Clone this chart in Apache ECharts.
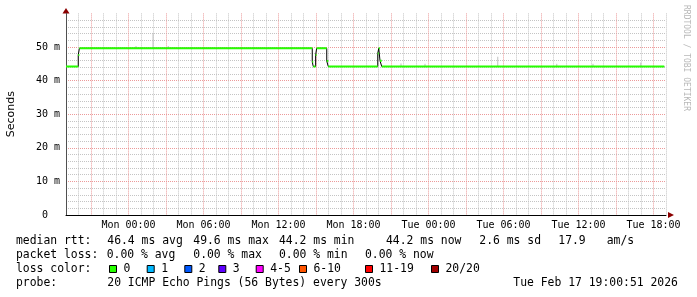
<!DOCTYPE html>
<html><head><meta charset="utf-8">
<script src="https://cdn.jsdelivr.net/npm/echarts@6/dist/echarts.min.js"></script>
<style>html,body{margin:0;padding:0;background:#fff}#c{width:697px;height:297px}</style>
</head><body><div id="c"></div>
<script>
// hours relative to Mon 00:00 (window Sun 19:00 .. Tue 19:00)
const medianHours  = [-5, -4.02, -3.93, 14.70, 14.78, 14.97, 15.05, 15.86, 15.98, 19.94, 20.02, 20.12, 20.26, 42.86];
const medianValues = [44.2, 47.6, 49.6, 45.6, 44.2, 47.6, 49.6, 45.8, 44.2, 48.1, 49.6, 45.9, 44.2, 44.2];
const smokeHours = [0.6, 1.96, 3.18, 21.8, 23.72, 29.54, 34.26, 37.16, 40.98];
const smokeTops  = [50.3, 54.2, 50.3, 45.1, 45.0, 47.1, 45.0, 45.0, 45.4];
const tickHours  = [0, 6, 12, 18, 24, 30, 36, 42];
const tickLabels = ['Mon 00:00','Mon 06:00','Mon 12:00','Mon 18:00','Tue 00:00','Tue 06:00','Tue 12:00','Tue 18:00'];
const rttStats   = [46.4, 49.6, 44.2, 44.2, 2.6];
const rttAmps    = 17.9;
const lossStats  = [0, 0, 0, 0];
const lossLabels = ['0','1','2','3','4-5','6-10','11-19','20/20'];
const lossColors = ['#26ff00','#00b8ff','#0059ff','#5e00ff','#ff00ff','#ff5500','#ff0000','#a00000'];
const probeText  = '20 ICMP Echo Pings (56 Bytes) every 300s';
const stampText  = 'Tue Feb 17 19:00:51 2026';

const MONO = 'DejaVu Sans Mono';
const GL = 66, GR = 666, GT = 13.4, GB = 215;

function medianAt(h){ let v = medianValues[0]; for (let i=0;i<medianHours.length;i++){ if (medianHours[i] <= h) v = medianValues[i]; } return v; }

const stepData = medianHours.map((h,i)=>[h, medianValues[i]]);
const greenData = [];
for (let i=0;i<medianHours.length-1;i++){
  greenData.push([medianHours[i], medianValues[i]], [medianHours[i+1], medianValues[i]], [medianHours[i+1], null]);
}
const smokeData = [];
smokeHours.forEach((h,i)=>{ smokeData.push([h, medianAt(h)], [h, smokeTops[i]], [h, null]); });

const labelMap = {}; tickHours.forEach((h,i)=>labelMap[h]=tickLabels[i]);

const chart = echarts.init(document.getElementById('c'), null, {renderer:'canvas'});

const graphics = [];
function txt(x,y,s,opt){ graphics.push(Object.assign({type:'text', x:x, y:y, silent:true, style:{text:s, fontFamily:MONO, fontSize:11.4, fill:'#000', textAlign:'left', textVerticalAlign:'middle'}}, opt||{})); }
const r1 = 241.3, r2 = 255.3, r3 = 269.3, r4 = 283;
txt(16, r1, 'median rtt:');
const rttSuffix = ['ms avg','ms max','ms min','ms now','ms sd'];
const rttX = [107.3, 193.3, 279, 386, 479.3];
rttStats.forEach((v,i)=>txt(rttX[i], r1, v.toFixed(1)+' '+rttSuffix[i]));
txt(558.3, r1, rttAmps.toFixed(1));
txt(606.7, r1, 'am/s');
txt(16, r2, 'packet loss:');
const lossSuffix = ['% avg','% max','% min','% now'];
const lossX = [106.7, 193.3, 279, 365];
lossStats.forEach((v,i)=>txt(lossX[i], r2, v.toFixed(2)+' '+lossSuffix[i]));
txt(16, r3, 'loss color:');
const boxX = [109, 146.7, 184.3, 218.3, 255.7, 299, 365, 431];
lossLabels.forEach((l,i)=>{
  graphics.push({type:'rect', silent:true, shape:{x:boxX[i]+0.5, y:265.5, width:7, height:7}, style:{fill:lossColors[i], stroke:'#000', lineWidth:1}});
  txt(boxX[i]+14.5, r3, l);
});
txt(16, r4, 'probe:');
txt(107.3, r4, probeText);
txt(513.3, r4, stampText);
// watermark
graphics.push({type:'text', x:686, y:5, rotation:-Math.PI/2, silent:true, style:{text:'RRDTOOL / TOBI OETIKER', fontFamily:MONO, fontSize:8, fill:'#b8b8b8', textAlign:'left', textVerticalAlign:'middle'}});
// axis arrows
graphics.push({type:'polygon', silent:true, shape:{points:[[GL-3.5,GT],[GL+3.5,GT],[GL,GT-5.5]]}, style:{fill:'#8b0000'}});
graphics.push({type:'polygon', silent:true, shape:{points:[[GR+2,GB-3],[GR+2,GB+3],[GR+8,GB]]}, style:{fill:'#8b0000'}});

const grey = '#c4c4c4', red = '#ec9a9a';
chart.setOption({
  animation:false,
  backgroundColor:'#fff',
  grid:{left:GL, right:697-GR, top:GT, bottom:297-GB, containLabel:false, outerBoundsMode:'none'},
  xAxis:{type:'value', min:-5, max:43, interval:1,
    axisLine:{show:true, onZero:false, lineStyle:{color:'#000', width:1}},
    axisTick:{show:false},
    axisLabel:{margin:5, fontFamily:MONO, fontSize:10, color:'#000', formatter:(v)=>labelMap[v]||''},
    splitLine:{show:true, lineStyle:{color:[grey, grey, red], type:[1,1], width:1}}
  },
  yAxis:{type:'value', min:0, max:60, interval:10,
    name:'Seconds', nameLocation:'middle', nameGap:49, nameRotate:90,
    nameTextStyle:{fontFamily:'DejaVu Sans', fontSize:11, color:'#000'},
    axisLine:{show:true, onZero:false, lineStyle:{color:'#505050', width:1}},
    axisTick:{show:false},
    axisLabel:{margin:6, fontFamily:MONO, fontSize:10, color:'#000', formatter:(v)=> v===0 ? '0  ' : (v>=60 ? '' : v+' m')},
    splitLine:{show:true, lineStyle:{color:[red,red,red,red,red,red,'rgba(0,0,0,0)'], type:[1,1], width:1}},
    minorTick:{show:false, splitNumber:5},
    minorSplitLine:{show:true, lineStyle:{color:grey, type:[1,1], width:1}}
  },
  series:[
    {type:'line', z:1, data:smokeData, symbol:'none', connectNulls:false, silent:true, lineStyle:{color:'#c0c0c0', width:1}},
    {type:'line', z:2, data:stepData, step:'end', symbol:'none', silent:true, lineStyle:{color:'#000', width:1}},
    {type:'line', z:3, data:greenData, symbol:'none', connectNulls:false, silent:true, lineStyle:{color:'#26ff00', width:2}}
  ],
  graphic:graphics
});
</script></body></html>
